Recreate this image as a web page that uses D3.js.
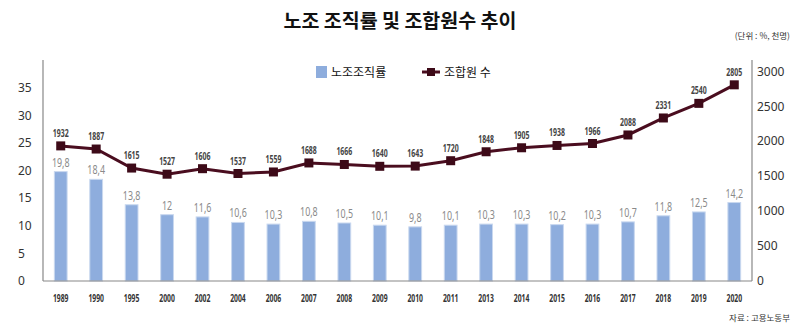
<!DOCTYPE html>
<html><head><meta charset="utf-8">
<script src="https://cdn.jsdelivr.net/npm/d3@7/dist/d3.min.js"></script>
<style>
body{margin:0;background:#fff;}
svg{display:block;}
</style></head>
<body>
<script>
const years = ["1989","1990","1995","2000","2002","2004","2006","2007","2008","2009","2010","2011","2013","2014","2015","2016","2017","2018","2019","2020"];
const rates = [19.8,18.4,13.8,12,11.6,10.6,10.3,10.8,10.5,10.1,9.8,10.1,10.3,10.3,10.2,10.3,10.7,11.8,12.5,14.2];
const members = [1932,1887,1615,1527,1606,1537,1559,1688,1666,1640,1643,1720,1848,1905,1938,1966,2088,2331,2540,2805];
const leftTicks = [0,5,10,15,20,25,30,35];
const rightTicks = [0,500,1000,1500,2000,2500,3000];
const title = "노조 조직률 및 조합원수 추이";
const unitText = "(단위 : %, 천명)";
const sourceText = "자료 : 고용노동부";
const barName = "노조조직률";
const lineName = "조합원 수";

const W=800,H=333;
const svg=d3.select("body").append("svg").attr("width",W).attr("height",H);
const L=43,R=752,T=60,B=281;
const x=d3.scaleBand().domain(years).range([L,R]).paddingInner(0.64).paddingOuter(0.32);
const yL=d3.scaleLinear().domain([0,40]).range([B,T]);
const yR=d3.scaleLinear().domain([0,3160]).range([B,T]);
const kfont='"Noto Sans CJK KR","Noto Sans",sans-serif';
const nfont='"Noto Sans",sans-serif';
const cx=(i)=>x(years[i])+x.bandwidth()/2;

svg.append("text").attr("x",400).attr("y",28).attr("text-anchor","middle")
  .style("font-family",kfont).style("font-weight","700").style("font-size","19.5px").attr("fill","#111").text(title);
svg.append("text").attr("x",790).attr("y",39).attr("text-anchor","end")
  .style("font-family",kfont).style("font-size","8.5px").attr("fill","#333").text(unitText);
svg.append("text").attr("x",790).attr("y",321).attr("text-anchor","end")
  .style("font-family",kfont).style("font-size","8.5px").attr("fill","#333").text(sourceText);

// bars
svg.append("g").selectAll("rect").data(rates).join("rect")
  .attr("x",(d,i)=>x(years[i])).attr("width",x.bandwidth())
  .attr("y",d=>yL(d)).attr("height",d=>B-yL(d))
  .attr("fill","#8eaddd").attr("stroke","#c9d8ef").attr("stroke-width",1);
svg.append("g").selectAll("text").data(rates).join("text")
  .attr("transform",(d,i)=>`translate(${cx(i)},${yL(d)-5}) scale(0.66,1)`)
  .attr("text-anchor","middle").style("font-family",nfont).style("font-size","13.5px").attr("fill","#8a8a8a")
  .text(d=>String(d).replace(".",","));

// axes
const axes=svg.append("g").attr("stroke","#888").attr("stroke-width",1.2);
axes.append("line").attr("x1",L).attr("x2",L).attr("y1",T).attr("y2",B);
axes.append("line").attr("x1",R).attr("x2",R).attr("y1",T).attr("y2",B);
axes.append("line").attr("x1",L).attr("x2",R).attr("y1",B).attr("y2",B);

const gl=svg.append("g").attr("transform",`translate(18,0)`).call(d3.axisLeft(yL).tickValues(leftTicks).tickSize(0));
gl.select(".domain").remove();
gl.selectAll("text").attr("text-anchor","start").attr("x",0).style("font-family",nfont).style("font-size","12px").attr("fill","#333");
const gr=svg.append("g").attr("transform",`translate(757,0)`).call(d3.axisRight(yR).tickValues(rightTicks).tickFormat(d3.format("d")).tickSize(0));
gr.select(".domain").remove();
gr.selectAll("text").attr("x",0).style("font-family",nfont).style("font-size","12px").attr("fill","#333");
const gx=svg.append("g").attr("transform",`translate(0,${B})`).call(d3.axisBottom(x).tickSize(0));
gx.select(".domain").remove();
gx.selectAll("text").attr("y",null).attr("dy",null)
  .attr("transform","translate(0,21) scale(0.68,1)")
  .style("font-family",nfont).style("font-size","10px").style("font-weight","700").attr("fill","#333");

// line
const line=d3.line().x((d,i)=>cx(i)).y(d=>yR(d));
svg.append("path").datum(members).attr("d",line).attr("fill","none").attr("stroke","#4a0d1f").attr("stroke-width",3);
svg.append("g").selectAll("rect").data(members).join("rect")
  .attr("x",(d,i)=>cx(i)-4.5).attr("y",d=>yR(d)-4.5)
  .attr("width",9).attr("height",9).attr("fill","#3d0a18");
svg.append("g").selectAll("text").data(members).join("text")
  .attr("transform",(d,i)=>`translate(${cx(i)},${yR(d)-9}) scale(0.66,1)`)
  .attr("text-anchor","middle").style("font-family",nfont).style("font-size","10.5px").style("font-weight","700").attr("fill","#444")
  .text(d=>d);

// legend
svg.append("rect").attr("x",316).attr("y",66).attr("width",11).attr("height",12).attr("fill","#8eaddd");
svg.append("text").attr("x",331).attr("y",77).style("font-family",kfont).style("font-size","12px").attr("fill","#111").text(barName);
svg.append("line").attr("x1",422).attr("x2",440).attr("y1",72).attr("y2",72).attr("stroke","#4a0d1f").attr("stroke-width",3);
svg.append("rect").attr("x",427).attr("y",68).attr("width",8).attr("height",8).attr("fill","#3d0a18");
svg.append("text").attr("x",444).attr("y",77).style("font-family",kfont).style("font-size","12px").attr("fill","#111").text(lineName);
</script>
</body></html>
